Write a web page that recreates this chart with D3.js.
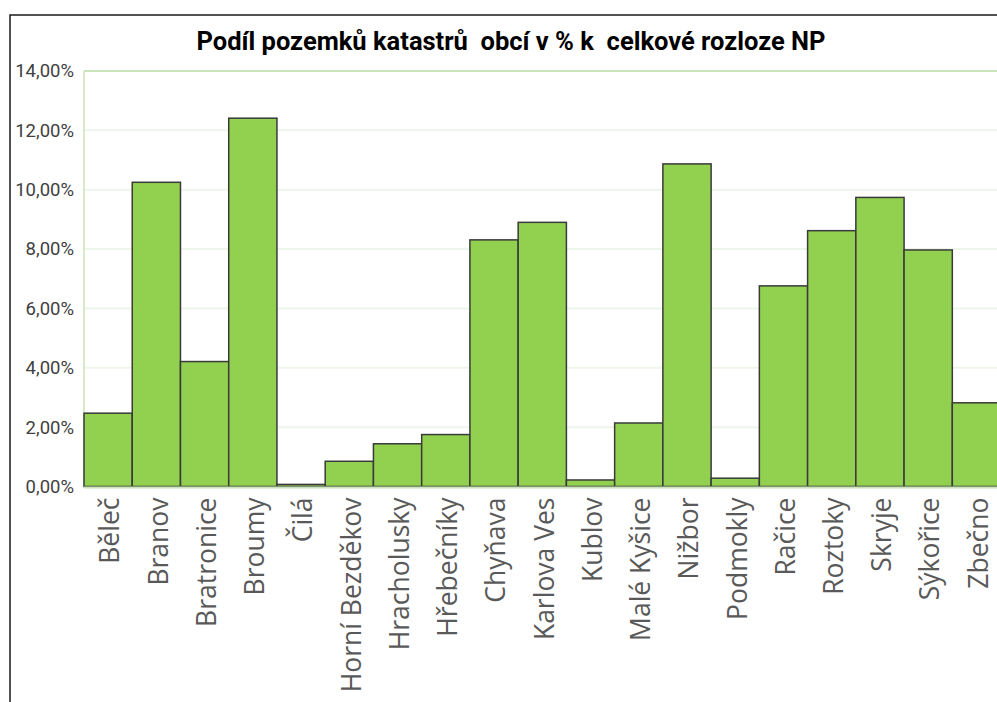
<!DOCTYPE html>
<html>
<head>
<meta charset="utf-8">
<script src="https://cdn.jsdelivr.net/npm/d3@7"></script>
<style>
  html, body { margin: 0; padding: 0; background: #fff; }
  svg { display: block; }
</style>
</head>
<body>
<svg id="chart" width="997" height="702"></svg>
<script>
// Obce (katastry) na území NP
const categories = [
  "Běleč", "Branov", "Bratronice", "Broumy", "Čilá", "Horní Bezděkov",
  "Hracholusky", "Hřebečníky", "Chyňava", "Karlova Ves", "Kublov",
  "Malé Kyšice", "Nižbor", "Podmokly", "Račice", "Roztoky", "Skryje",
  "Sýkořice", "Zbečno"
];
// Podíl v % k celkové rozloze NP
const shares = [
  2.47, 10.25, 4.21, 12.41, 0.07, 0.85,
  1.44, 1.75, 8.31, 8.90, 0.22,
  2.14, 10.87, 0.28, 6.76, 8.62, 9.74,
  7.97, 2.82
];
const yTicks = [0, 2, 4, 6, 8, 10, 12, 14];
const title = "Podíl pozemků katastrů  obcí v % k  celkové rozloze NP";

const svg = d3.select("#chart");

const plot = { left: 84, top: 71, bottom: 486.5, right: 84 + 19 * 48.24 };

// outer frame
svg.append("rect")
  .attr("x", 10).attr("y", 15)
  .attr("width", 1100).attr("height", 800)
  .attr("fill", "none")
  .attr("stroke", "#1a1a1a")
  .attr("stroke-width", 1.5);

const x = d3.scaleBand()
  .domain(categories)
  .range([plot.left, plot.right])
  .padding(0);

const y = d3.scaleLinear()
  .domain([0, 14])
  .range([plot.bottom, plot.top]);

const fmt = v => d3.format(".2f")(v).replace(".", ",") + "%";

// gridlines
svg.append("g")
  .selectAll("line")
  .data(yTicks.filter(t => t > 0 && t < 14))
  .join("line")
  .attr("x1", plot.left).attr("x2", plot.right)
  .attr("y1", d => y(d)).attr("y2", d => y(d))
  .attr("stroke", "#eef5ea")
  .attr("stroke-width", 2);

// top line at maximum
svg.append("line")
  .attr("x1", plot.left).attr("x2", plot.right)
  .attr("y1", y(14)).attr("y2", y(14))
  .attr("stroke", "#c8e4b8")
  .attr("stroke-width", 2);

// left axis line
svg.append("line")
  .attr("x1", plot.left).attr("x2", plot.left)
  .attr("y1", y(14)).attr("y2", y(0))
  .attr("stroke", "#c8e4b8")
  .attr("stroke-width", 1.5);

// y axis labels
const yAxis = d3.axisLeft(y)
  .tickValues(yTicks)
  .tickFormat(fmt)
  .tickSize(0)
  .tickPadding(10);

const yg = svg.append("g")
  .attr("transform", `translate(${plot.left},0)`)
  .call(yAxis);
yg.select(".domain").remove();
yg.selectAll("text")
  .attr("fill", "#404040")
  .style("font-family", "Roboto, 'Open Sans', sans-serif")
  .style("font-size", "18.5px");

// bars
svg.append("g")
  .selectAll("rect")
  .data(categories.map((c, i) => ({ c, v: shares[i] })))
  .join("rect")
  .attr("x", d => x(d.c))
  .attr("y", d => y(d.v))
  .attr("width", x.bandwidth())
  .attr("height", d => y(0) - y(d.v))
  .attr("fill", "#92d050")
  .attr("stroke", "#3a3a3a")
  .attr("stroke-width", 1.5);

// baseline
svg.append("line")
  .attr("x1", plot.left).attr("x2", plot.right)
  .attr("y1", y(0) + 1).attr("y2", y(0) + 1)
  .attr("stroke", "#c8e4b8")
  .attr("stroke-width", 2);

// x axis labels (rotated)
const xAxis = d3.axisBottom(x).tickSize(0).tickPadding(0);
const xg = svg.append("g")
  .attr("transform", `translate(0,${plot.bottom})`)
  .call(xAxis);
xg.select(".domain").remove();
xg.selectAll("text")
  .attr("fill", "#595959")
  .style("font-family", "'Open Sans', sans-serif")
  .style("font-size", "26.5px")
  .attr("text-anchor", "end")
  .attr("transform", "rotate(-90)")
  .attr("x", -11)
  .attr("y", 2)
  .attr("dy", "0.35em");

// title
svg.append("text")
  .attr("x", 511)
  .attr("y", 50)
  .attr("text-anchor", "middle")
  .style("white-space", "pre")
  .style("font-family", "Roboto, sans-serif")
  .style("font-weight", "bold")
  .style("font-size", "25.5px")
  .attr("fill", "#000")
  .text(title);
</script>
</body>
</html>
